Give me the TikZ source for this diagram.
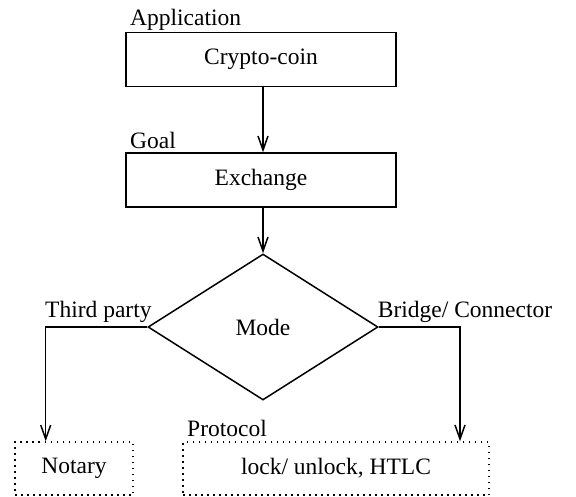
\documentclass[tikz,border=0pt]{standalone}
\usepackage{fontspec}
\setmainfont{Liberation Serif}
\usetikzlibrary{arrows.meta,shapes.geometric}
\begin{document}
\begin{tikzpicture}[x=1pt,y=-1pt,
  every node/.style={font=\fontsize{23.5}{28}\selectfont},
  solidbox/.style={draw,line width=1.5pt,minimum width=270pt,minimum height=54pt,inner sep=0pt},
  dotbox/.style={draw,line width=1.5pt,dash pattern=on 1.5pt off 4.5pt,minimum height=53pt,inner sep=0pt},
  lbl/.style={anchor=base west,inner sep=0pt},
  arr/.style={line width=1.5pt,-{Straight Barb[length=14pt,width=10pt,line width=1.5pt]}},
  conn/.style={line width=1.5pt}]
\useasboundingbox (0,0) rectangle (576,497);
\node[solidbox] (coin) at (261,59.7) {Crypto-coin};
\node[solidbox] (exch) at (261,180) {Exchange};
\node[draw,line width=1.5pt,diamond,minimum width=230pt,minimum height=146pt,inner sep=0pt] (mode) at (263,327) {Mode};
\node[dotbox,minimum width=118pt] (notary) at (74,468.5) {Notary};
\node[dotbox,minimum width=306pt] (proto) at (336,468.5) {lock/ unlock, HTLC};
\node[lbl] (lapp) at (130,26) {Application};
\node[lbl] (lgoal) at (130,149) {Goal};
\node[lbl] (lthird) at (45,317) {Third party};
\node[lbl] (lbridge) at (377.7,317) {Bridge/ Connector};
\node[lbl] (lproto) at (187,436.7) {Protocol};
\coordinate (lx) at (45.7,0);
\coordinate (rx) at (460,0);
\draw[arr] (coin.south -| mode.north) -- (exch.north -| mode.north);
\draw[arr] (exch.south -| mode.north) -- (mode.north);
\draw[arr] (mode.west) -| (lx |- notary.north);
\draw[arr] (mode.east) -| (rx |- proto.north);
\end{tikzpicture}
\end{document}
